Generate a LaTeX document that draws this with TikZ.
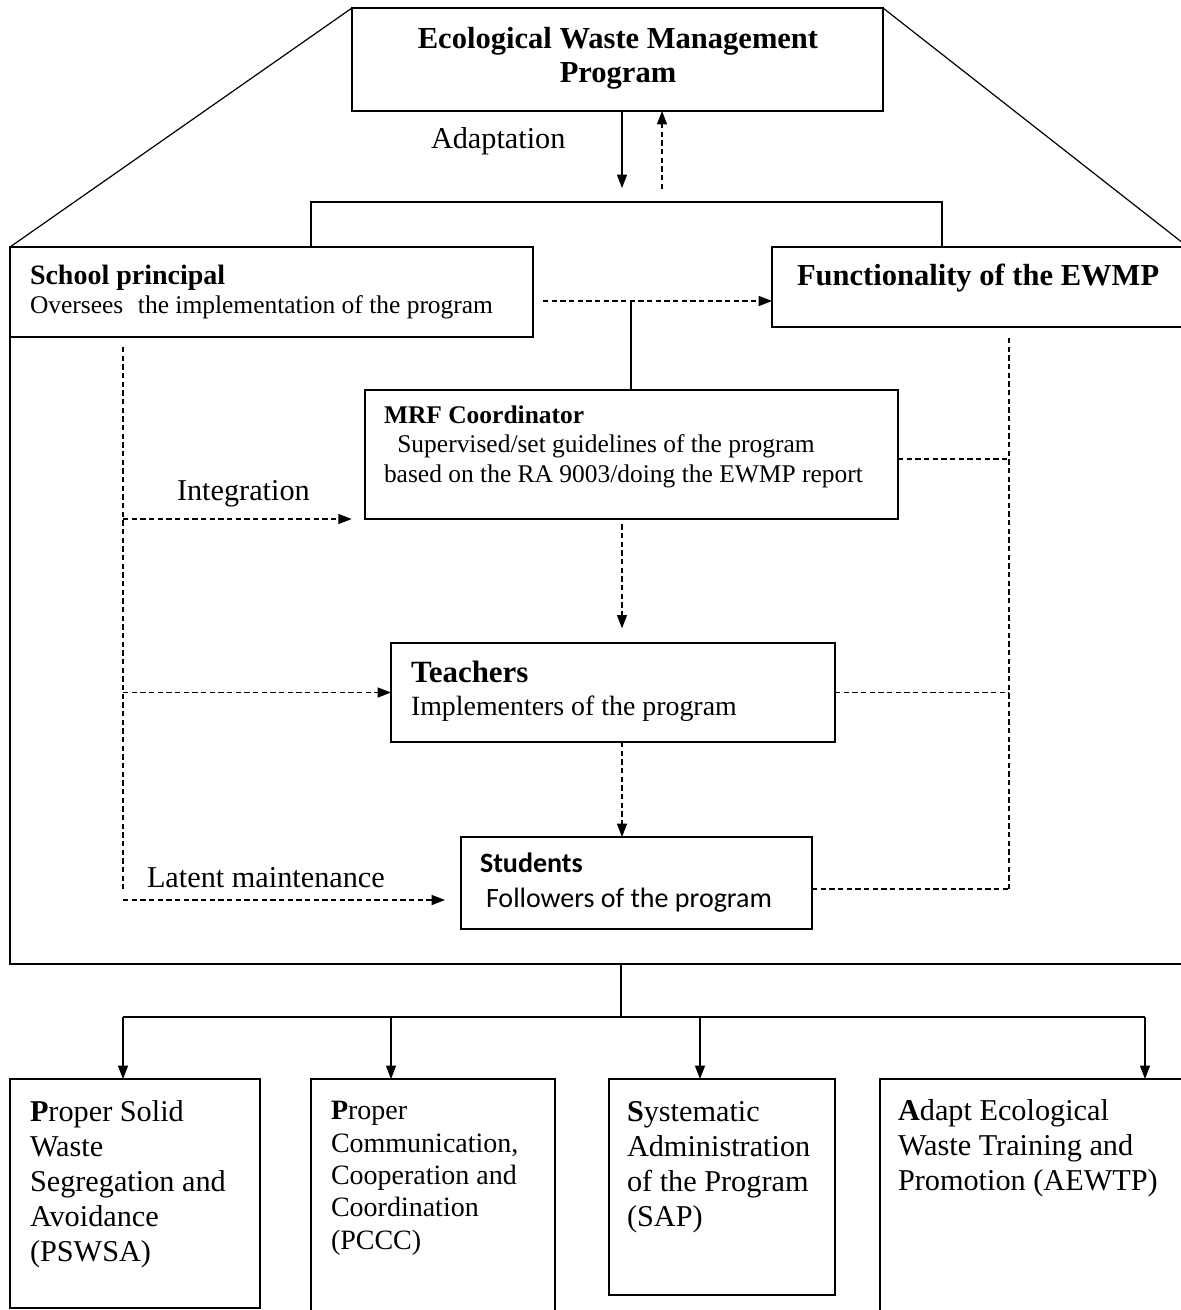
\documentclass[tikz,border=0pt]{standalone}
\usepackage{fontspec}
\setmainfont{Liberation Serif}
\newfontfamily\calibfont{Carlito}
\usetikzlibrary{arrows.meta,fit}
\newcommand\fsz[2]{\fontsize{#1}{#2}\selectfont}
\begin{document}
\begin{tikzpicture}[x=0.75pt,y=-0.75pt,
  box/.style={draw, line width=1pt, inner sep=0pt, outer sep=0pt},
  ln/.style={line width=0.9pt},
  dsh/.style={line width=0.9pt, dash pattern=on 4pt off 2.5pt},
  tip/.style={-{Triangle[length=10pt,width=7.5pt]}},
  txt/.style={anchor=base west, inner sep=0pt, outer sep=0pt, align=left}]
\useasboundingbox (0,0) rectangle (1181,1310);

% frame corners
\coordinate (frTL) at (10,247);
\coordinate (frBL) at (10,964);
\coordinate (frBR) at (1195,964);

% boxes
\node[box, fit={(352,8) (883,111)}] (top) {};
\node[box, fit={(10,247) (533,337)}] (sp) {};
\node[box, fit={(772,247) (1188,327)}] (fn) {};
\node[box, fit={(365,390) (898,519)}] (mrf) {};
\node[box, fit={(391,643) (835,742)}] (tch) {};
\node[box, fit={(461,837) (812,929)}] (stu) {};
\node[box, fit={(10,1079) (260,1308)}] (b1) {};
\node[box, fit={(311,1079) (555,1320)}] (b2) {};
\node[box, fit={(609,1079) (835,1295)}] (b3) {};
\node[box, fit={(880,1079) (1195,1320)}] (b4) {};

% texts (base anchor = baseline of the last line)
\node[anchor=base, inner sep=0pt, align=center, font=\bfseries\fsz{22.9}{25.5}] (topt) at (618,82) {Ecological Waste Management\\Program};
\node[txt, font=\fsz{22.7}{26}] (adapt) at (431,148) {Adaptation};
\node[txt, font=\fsz{19.1}{21.75}] (spt) at (30,313) {\textbf{\fsz{21}{21.75}School principal}\\Oversees\hspace{11pt}the implementation of the program};
\node[txt, font=\bfseries\fsz{22.9}{25}] (fnt) at (797,285) {Functionality of the EWMP};
\node[txt, font=\fsz{19.1}{22.1}] (mrft) at (384,482) {\textbf{MRF Coordinator}\\\hspace*{10pt}Supervised/set guidelines of the program\\based on the RA 9003/doing the EWMP report};
\node[txt, font=\fsz{22.7}{26}] (integ) at (177,500) {Integration};
\node[txt, font=\fsz{20.9}{24.75}] (tcht) at (411,715) {\textbf{\fsz{23.2}{24.75}Teachers}\\Implementers of the program};
\node[txt, font=\fsz{22.7}{26}] (latent) at (147,887) {Latent maintenance};
\node[txt, font=\calibfont\fsz{21}{26.25}] (stut) at (480,907) {\textbf{Students}\\\hspace*{4.5pt}Followers of the program};
\node[txt, font=\fsz{22.7}{26.25}] (b1t) at (30,1261) {\textbf{P}roper Solid\\Waste\\Segregation and\\Avoidance\\(PSWSA)};
\node[txt, font=\fsz{21}{24.2}] (b2t) at (331,1249) {\textbf{P}roper\\Communication,\\Cooperation and\\Coordination\\(PCCC)};
\node[txt, font=\fsz{22.7}{26.25}] (b3t) at (627,1226) {\textbf{S}ystematic\\Administration\\of the Program\\(SAP)};
\node[txt, font=\fsz{22.7}{26.25}] (b4t) at (898,1190) {\textbf{A}dapt Ecological\\Waste Training and\\Promotion (AEWTP)};

% trapezoid and frame
\draw[ln] (top.north west) -- (frTL);
\draw[ln] (top.north east) -- (fn.north east);
\draw[ln] (frTL) -- (frBL) -- (frBR);

% adaptation arrows
\coordinate (adD) at (622,188);
\coordinate (adU) at (662,189);
\draw[ln,tip] (top.south -| adD) -- (adD);
\draw[dsh,tip] (adU) -- (adU |- top.south);

% bracket
\coordinate (brL) at (311,202);
\coordinate (brR) at (942,202);
\draw[ln] (sp.north -| brL) -- (brL) -- (brR) -- (fn.north -| brR);

% principal -> functionality
\coordinate (spfn) at (543,301);
\draw[dsh,tip] (spfn) -- (spfn -| fn.west);
\coordinate (jn) at (631,301);
\draw[ln] (jn) -- (jn |- mrf.north);

% vertical chain
\coordinate (cx) at (622,0);
\draw[dsh,tip,shorten <=4pt,shorten >=11pt] (mrf.south -| cx) -- (tch.north -| cx);
\draw[dsh,tip] (tch.south -| cx) -- (stu.north -| cx);

% left dashed bus
\coordinate (lTop) at (123,347);
\coordinate (lBot) at (123,889);
\coordinate (lInt) at (123,519);
\coordinate (lLat) at (123,900);
\draw[dsh] (lTop) -- (lBot);
\draw[dsh,tip,shorten >=10pt] (lInt) -- (lInt -| mrf.west);
\draw[dsh,tip] (lInt |- tch.west) -- (tch.west);
\draw[dsh,tip,shorten >=12pt] (lLat) -- (lLat -| stu.west);

% right dashed bus
\coordinate (rTop) at (1009,338);
\coordinate (rM) at (1009,459);
\coordinate (rS) at (1009,889);
\draw[dsh] (rTop) -- (rS);
\draw[dsh] (mrf.east |- rM) -- (rM);
\draw[dsh] (tch.east) -- (tch.east -| rM);
\draw[dsh] (stu.east |- rS) -- (rS);

% bottom distribution
\coordinate (bj) at (621,1017);
\coordinate (bL) at (123,1017);
\coordinate (bR) at (1145,1017);
\draw[ln] (bj |- frBL) -- (bj);
\draw[ln] (bL) -- (bR);
\draw[ln,tip] (bL) -- (bL |- b1.north);
\draw[ln,tip] (391,1017) -- (391,1079);
\draw[ln,tip] (700,1017) -- (700,1079);
\draw[ln,tip] (bR) -- (bR |- b4.north);
\end{tikzpicture}
\end{document}
